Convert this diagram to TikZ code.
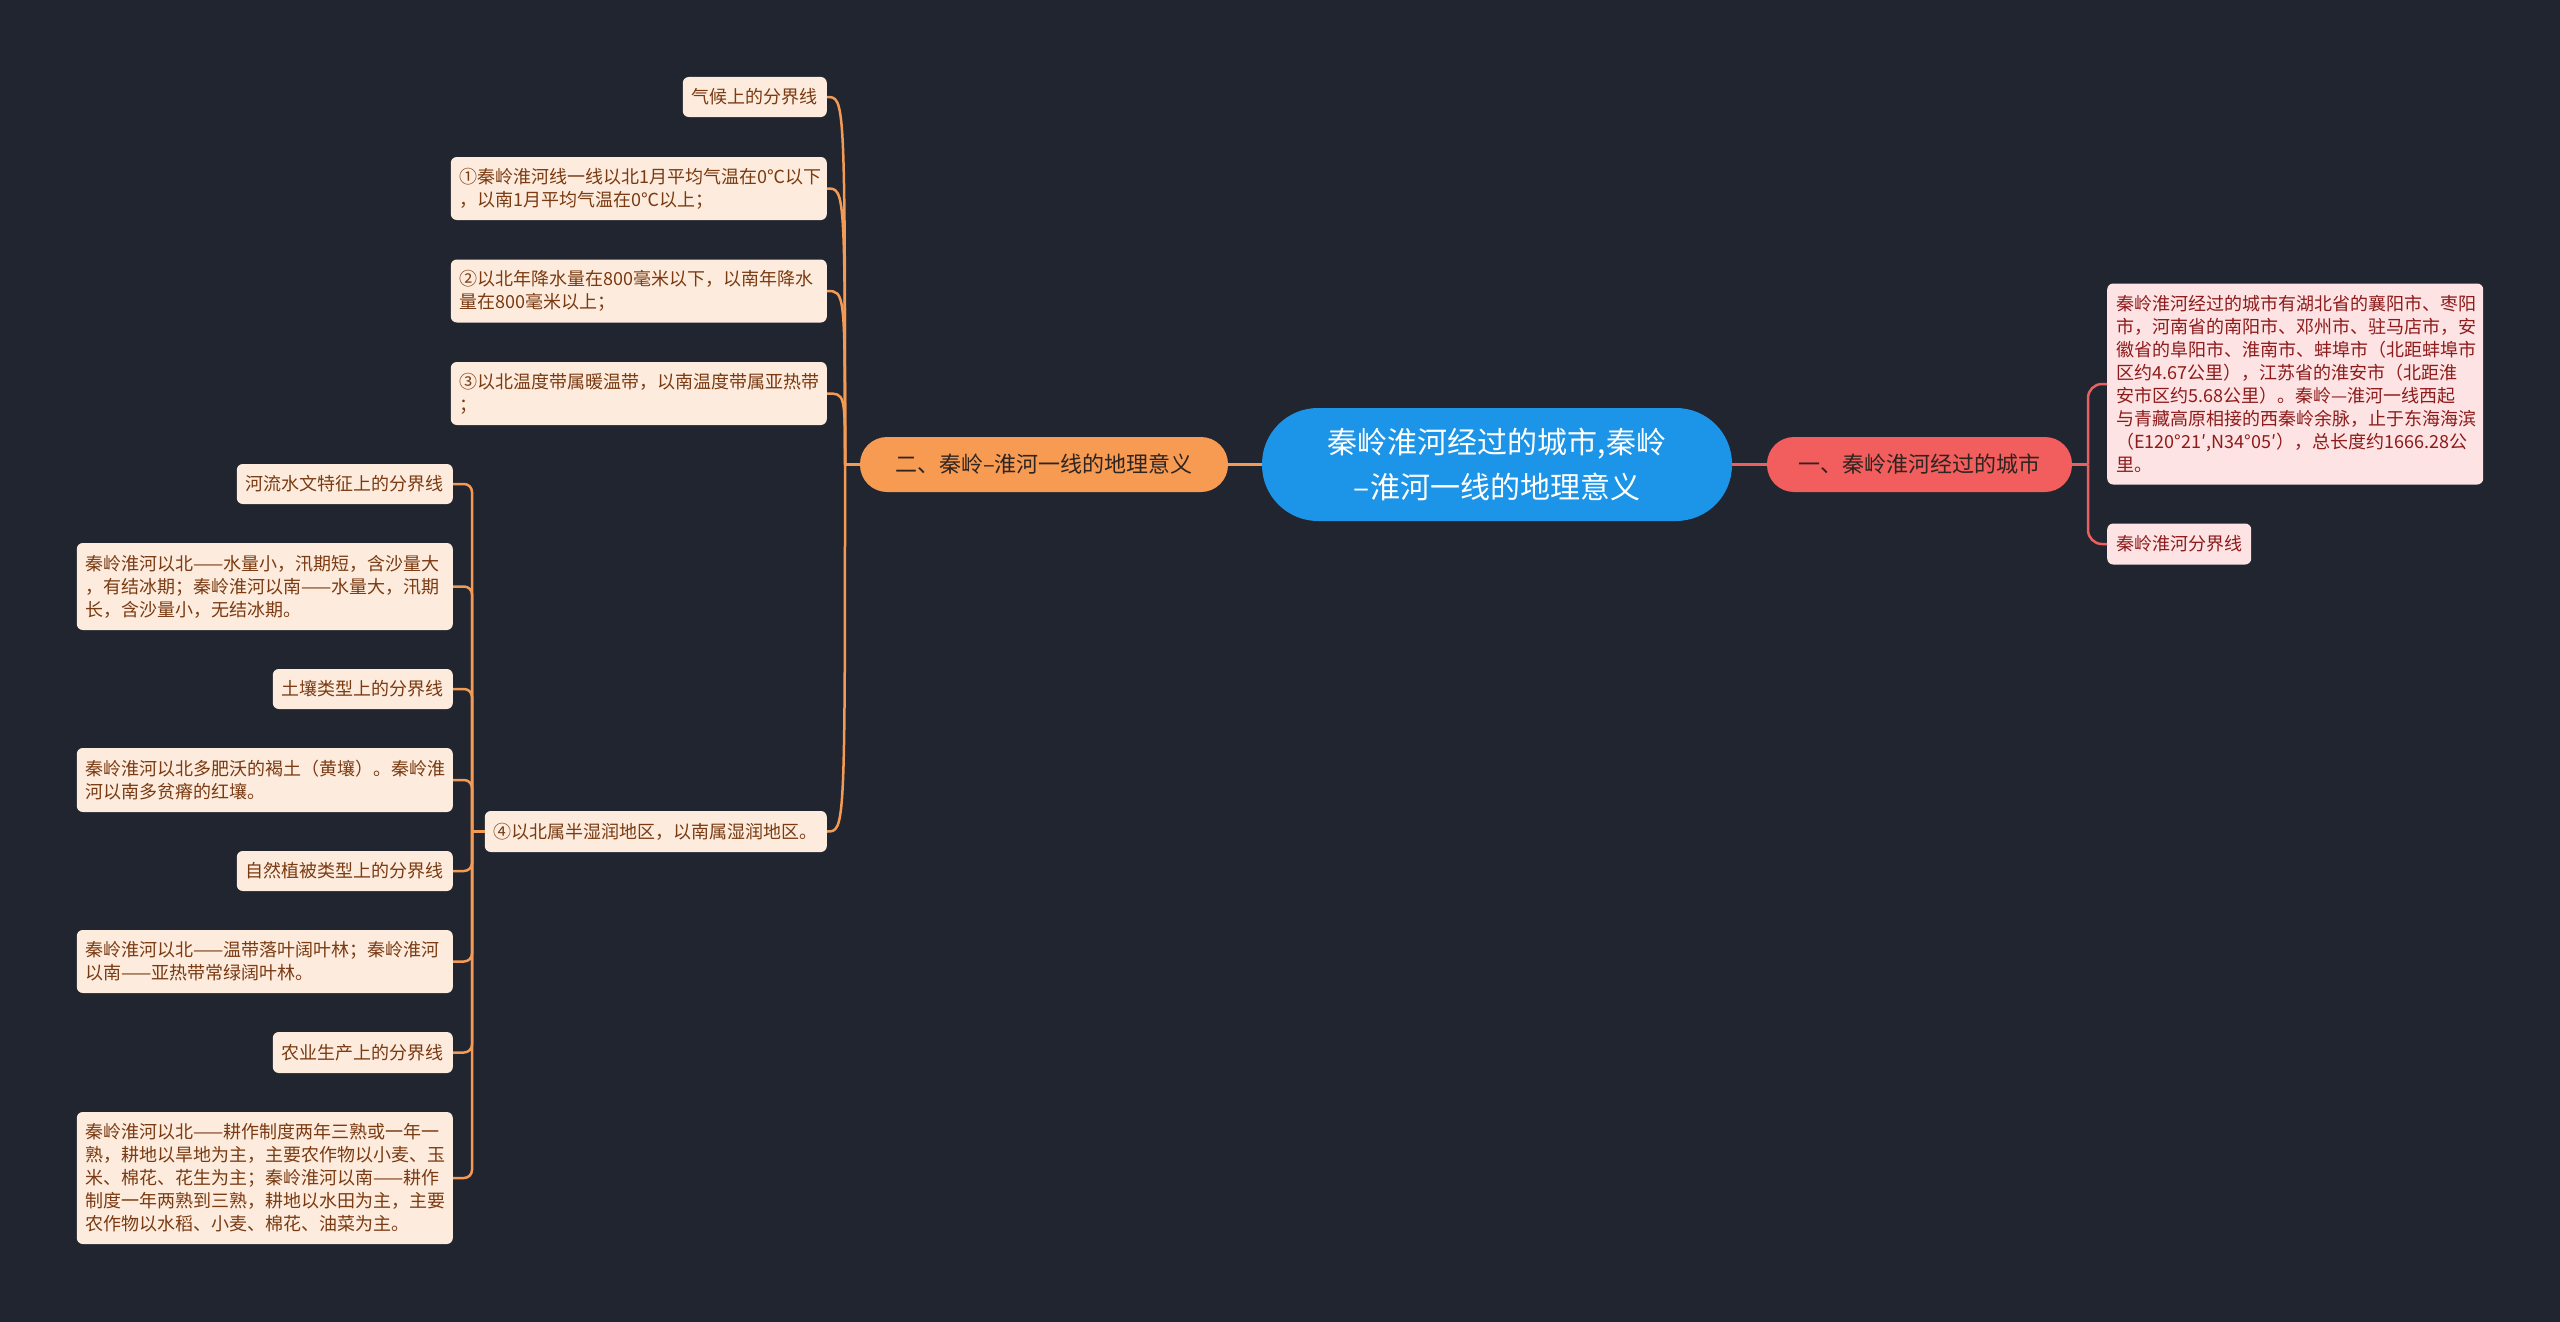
\documentclass[tikz,border=0pt]{standalone}
\usepackage{fontspec}
\setmainfont{Noto Sans CJK SC}
\definecolor{bg}{HTML}{21252F}
\definecolor{centrefill}{HTML}{1C95E8}
\definecolor{orangefill}{HTML}{F79A52}
\definecolor{redfill}{HTML}{F25D5D}
\definecolor{branchtext}{HTML}{2E2420}
\definecolor{leafLfill}{HTML}{FDECDD}
\definecolor{leafLtext}{HTML}{7A3A12}
\definecolor{leafRfill}{HTML}{FDE3E3}
\definecolor{leafRtext}{HTML}{8E1B1B}
\definecolor{linkOcol}{HTML}{F39A55}
\definecolor{linkRcol}{HTML}{E86060}
\tikzset{
  leafL/.style={fill=leafLfill, text=leafLtext, rounded corners=6pt, inner xsep=9pt, inner ysep=4pt,
    font=\fontsize{18}{23}\selectfont, align=left, anchor=east},
  leafR/.style={fill=leafRfill, text=leafRtext, rounded corners=6pt, inner xsep=9pt, inner ysep=4pt,
    font=\fontsize{18}{23}\selectfont, align=left, anchor=west},
  wide/.style={text width=358pt},
  centre/.style={fill=centrefill, text=white, rounded corners=56pt, minimum width=470pt, minimum height=113pt,
    font=\fontsize{30}{45}\selectfont, align=center, inner sep=0pt},
  branchO/.style={fill=orangefill, text=branchtext, rounded corners=27pt, minimum width=368pt, minimum height=55pt,
    font=\fontsize{22}{26}\selectfont, inner sep=0pt},
  branchR/.style={fill=redfill, text=branchtext, rounded corners=27pt, minimum width=305pt, minimum height=55pt,
    font=\fontsize{22}{26}\selectfont, inner sep=0pt},
  linkO/.style={draw=linkOcol, line width=2.5pt},
  linkR/.style={draw=linkRcol, line width=2.5pt},
}
\begin{document}
\begin{tikzpicture}[x=1pt,y=-1pt]
\fill[bg] (0,0) rectangle (2560,1322);
\useasboundingbox (0,0) rectangle (2560,1322);

% centre and branches
\node[centre] (c) at (1497,464.5) {秦岭淮河经过的城市,秦岭\\–淮河一线的地理意义};
\node[branchO] (b2) at (1044,464.5) {二、秦岭–淮河一线的地理意义};
\node[branchR] (b1) at (1919.5,464.5) {一、秦岭淮河经过的城市};

% right leaves
\node[leafR, wide, minimum height=201pt] (r1) at (2107,384) {秦岭淮河经过的城市有湖北省的襄阳市、枣阳\\市，河南省的南阳市、邓州市、驻马店市，安\\徽省的阜阳市、淮南市、蚌埠市（北距蚌埠市\\区约4.67公里），江苏省的淮安市（北距淮\\安市区约5.68公里）。秦岭—淮河一线西起\\与青藏高原相接的西秦岭余脉，止于东海海滨\\（E120°21′,N34°05′），总长度约1666.28公\\里。};
\node[leafR, minimum height=41pt] (r2) at (2107,544) {秦岭淮河分界线};

% left level 2
\node[leafL, minimum height=40pt] (l1) at (827,97) {气候上的分界线};
\node[leafL, wide, minimum height=63pt] (l2) at (827,188.5) {①秦岭淮河线一线以北1月平均气温在0℃以下\\，以南1月平均气温在0℃以上；};
\node[leafL, wide, minimum height=63pt] (l3) at (827,291) {②以北年降水量在800毫米以下，以南年降水\\量在800毫米以上；};
\node[leafL, wide, minimum height=63pt] (l4) at (827,393.5) {③以北温度带属暖温带，以南温度带属亚热带\\；};
\node[leafL, minimum height=41pt] (l5) at (827,831.5) {④以北属半湿润地区，以南属湿润地区。};

% left level 3
\node[leafL, minimum height=40pt] (m1) at (453,484) {河流水文特征上的分界线};
\node[leafL, wide, minimum height=87pt] (m2) at (453,586.5) {秦岭淮河以北——水量小，汛期短，含沙量大\\，有结冰期；秦岭淮河以南——水量大，汛期\\长，含沙量小，无结冰期。};
\node[leafL, minimum height=40pt] (m3) at (453,689) {土壤类型上的分界线};
\node[leafL, wide, minimum height=64pt] (m4) at (453,780) {秦岭淮河以北多肥沃的褐土（黄壤）。秦岭淮\\河以南多贫瘠的红壤。};
\node[leafL, minimum height=40pt] (m5) at (453,871) {自然植被类型上的分界线};
\node[leafL, wide, minimum height=63pt] (m6) at (453,961.5) {秦岭淮河以北——温带落叶阔叶林；秦岭淮河\\以南——亚热带常绿阔叶林。};
\node[leafL, minimum height=41pt] (m7) at (453,1052.5) {农业生产上的分界线};
\node[leafL, wide, minimum height=132pt] (m8) at (453,1178) {秦岭淮河以北——耕作制度两年三熟或一年一\\熟，耕地以旱地为主，主要农作物以小麦、玉\\米、棉花、花生为主；秦岭淮河以南——耕作\\制度一年两熟到三熟，耕地以水田为主，主要\\农作物以水稻、小麦、棉花、油菜为主。};

% junctions
\coordinate (j1) at (845,464.5);
\coordinate (j2) at (472,831.5);
\coordinate (j3) at (2088,464.5);

% connectors centre
\draw[linkO] (c.west) -- (b2.east);
\draw[linkR] (c.east) -- (b1.west);

% right
\draw[linkR] (b1.east) -- (j3);
\foreach \n in {r1,r2}
  \draw[linkR, rounded corners=14pt] (j3) |- (\n.west);

% left level 2
\draw[linkO] (b2.west) -- (j1);
\foreach \n in {l1,l2,l3,l4,l5}
  \draw[linkO] (j1) .. controls (j1 |- \n.east) and (j1 |- \n.east) .. (\n.east);

% left level 3
\draw[linkO] (l5.west) -- (j2);
\foreach \n in {m1,m2,m3,m4,m5,m6,m7,m8}
  \draw[linkO, rounded corners=8pt] (j2) |- (\n.east);
\end{tikzpicture}
\end{document}
